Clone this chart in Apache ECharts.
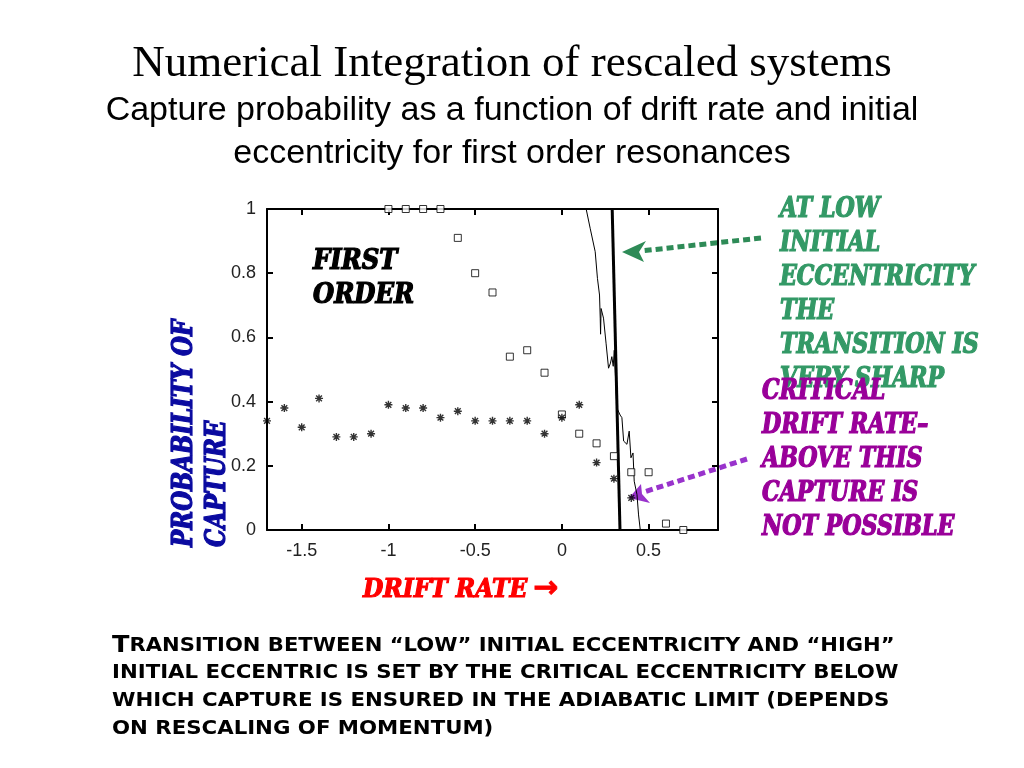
<!DOCTYPE html>
<html>
<head>
<meta charset="utf-8">
<script src="https://cdn.jsdelivr.net/npm/echarts@6/dist/echarts.min.js"></script>
<style>
html,body{margin:0;padding:0;background:#fff;}
#c{width:1024px;height:768px;}
</style>
</head>
<body>
<div id="c"></div>
<script>
// ---- data ----
const xTicks = [-1.5, -1, -0.5, 0, 0.5];
const yTicks = [0, 0.2, 0.4, 0.6, 0.8, 1];

const starX = [-1.7,-1.6,-1.5,-1.4,-1.3,-1.2,-1.1,-1.0,-0.9,-0.8,-0.7,-0.6,-0.5,-0.4,-0.3,-0.2,-0.1,0,0.1,0.2,0.3,0.4];
const starY = [0.34,0.38,0.32,0.41,0.29,0.29,0.30,0.39,0.38,0.38,0.35,0.37,0.34,0.34,0.34,0.34,0.30,0.35,0.39,0.21,0.16,0.10];

const squareX = [-1.0,-0.9,-0.8,-0.7,-0.6,-0.5,-0.4,-0.3,-0.2,-0.1,0,0.1,0.2,0.3,0.4,0.5,0.6,0.7];
const squareY = [1,1,1,1,0.91,0.80,0.74,0.54,0.56,0.49,0.36,0.30,0.27,0.23,0.18,0.18,0.02,0.0];

const thinX = [0.14,0.163,0.192,0.205,0.217,0.221,0.223,0.226,0.24,0.255,0.269,0.28,0.288,0.296,0.302,0.307,0.317,0.336,0.346,0.356,0.375,0.388,0.398,0.41,0.417,0.433,0.442,0.452,0.5];
const thinY = [1,0.94,0.867,0.784,0.732,0.66,0.61,0.69,0.66,0.58,0.504,0.52,0.54,0.51,0.56,0.505,0.38,0.358,0.35,0.277,0.267,0.308,0.225,0.24,0.152,0.11,0.047,0,0];

const thickX = [0.29, 0.335];
const thickY = [1, 0];

const titleText = "Numerical Integration of rescaled systems";
const subtitleText = "Capture probability as a function of drift rate and initial\neccentricity for first order resonances";
const insideLabel = "FIRST\nORDER";
const yName = "PROBABILITY OF\nCAPTURE";
const xName = "DRIFT RATE";
const greenNote = "AT LOW\nINITIAL\nECCENTRICITY\nTHE\nTRANSITION IS\nVERY SHARP";
const purpleNote = "CRITICAL\nDRIFT RATE–\nABOVE THIS\nCAPTURE IS\nNOT POSSIBLE";
const bottomLines = [
  "RANSITION BETWEEN “LOW” INITIAL ECCENTRICITY AND “HIGH”",
  "INITIAL ECCENTRIC IS SET BY THE CRITICAL ECCENTRICITY BELOW",
  "WHICH CAPTURE IS ENSURED IN THE ADIABATIC LIMIT (DEPENDS",
  "ON RESCALING OF MOMENTUM)"
];

const zip = (a, b) => a.map((v, i) => [v, b[i]]);

const heavy = '"DejaVu Serif Condensed", "DejaVu Serif", serif';
const heavyFont = (px) => 'bold italic ' + px + 'px ' + heavy;
const chart = echarts.init(document.getElementById('c'));

const asterisk = 'path://M0,-5L0,5M-5,0L5,0M-3.6,-3.6L3.6,3.6M-3.6,3.6L3.6,-3.6';
const tickFont = {color: '#222', fontSize: 18, fontFamily: 'Liberation Sans, Arial, sans-serif'};
const bottomFont = 'bold 19px "DejaVu Sans", sans-serif';

chart.setOption({
  animation: false,
  backgroundColor: '#ffffff',
  grid: {left: 267, right: 306, top: 209, bottom: 238, containLabel: false},
  xAxis: [{
    type: 'value', min: -1.7, max: 0.9,
    axisLine: {show: true, onZero: false, lineStyle: {color: '#000', width: 2}},
    axisTick: {show: true, inside: true, length: 6, customValues: xTicks, lineStyle: {color: '#000', width: 2}},
    axisLabel: Object.assign({customValues: xTicks, margin: 12}, tickFont),
    splitLine: {show: false}
  }, {
    type: 'value', min: -1.7, max: 0.9, position: 'top',
    axisLine: {show: true, onZero: false, lineStyle: {color: '#000', width: 2}},
    axisTick: {show: true, inside: true, length: 6, customValues: xTicks, lineStyle: {color: '#000', width: 2}},
    axisLabel: {show: false},
    splitLine: {show: false}
  }],
  yAxis: [{
    type: 'value', min: 0, max: 1, interval: 0.2,
    axisLine: {show: true, onZero: false, lineStyle: {color: '#000', width: 2}},
    axisTick: {show: true, inside: true, length: 6, lineStyle: {color: '#000', width: 2}},
    axisLabel: Object.assign({margin: 11}, tickFont),
    splitLine: {show: false}
  }, {
    type: 'value', min: 0, max: 1, interval: 0.2, position: 'right',
    axisLine: {show: true, onZero: false, lineStyle: {color: '#000', width: 2}},
    axisTick: {show: true, inside: true, length: 6, lineStyle: {color: '#000', width: 2}},
    axisLabel: {show: false},
    splitLine: {show: false}
  }],
  series: [{
    type: 'line', data: zip(thinX, thinY), showSymbol: false, symbol: 'none',
    lineStyle: {color: '#000', width: 1}, z: 2
  }, {
    type: 'line', data: zip(thickX, thickY), showSymbol: false, symbol: 'none',
    lineStyle: {color: '#000', width: 3}, z: 2
  }, {
    type: 'scatter', data: zip(squareX, squareY), symbol: 'rect', symbolSize: 7,
    itemStyle: {color: '#fff', borderColor: '#000', borderWidth: 1}, z: 3
  }, {
    type: 'scatter', data: zip(starX, starY), symbol: asterisk, symbolSize: 8,
    itemStyle: {color: 'none', borderColor: '#000', borderWidth: 1.4}, z: 3
  }],
  graphic: [
    {type: 'text', style: {text: titleText, x: 512, y: 64, textAlign: 'center', textVerticalAlign: 'middle',
      font: '45px "Liberation Serif", "Times New Roman", serif', fill: '#000'}},
    {type: 'text', style: {text: subtitleText, x: 512, y: 89, textAlign: 'center', textVerticalAlign: 'top',
      font: '34px "Liberation Sans", Arial, sans-serif', fill: '#000', lineHeight: 43}},
    {type: 'text', z: 10, x: 313, y: 245, style: {text: insideLabel, x: 0, y: 0, textAlign: 'left', textVerticalAlign: 'top',
      font: heavyFont(27), fill: '#000', stroke: '#000', lineWidth: 1.2, lineHeight: 34}},
    {type: 'text', rotation: Math.PI / 2, x: 201, y: 547, scaleX: 0.94, style: {text: yName, x: 0, y: 0, textAlign: 'left', textVerticalAlign: 'middle',
      font: heavyFont(27), fill: '#0a0aa0', stroke: '#0a0aa0', lineWidth: 1.2, lineHeight: 33}},
    {type: 'text', x: 363, y: 590, style: {text: xName, x: 0, y: 0, textAlign: 'left', textVerticalAlign: 'middle',
      font: heavyFont(26), fill: '#ff0000', stroke: '#ff0000', lineWidth: 1.1}},
    {type: 'text', style: {text: '→', x: 533, y: 589, textAlign: 'left', textVerticalAlign: 'middle',
      font: 'bold 30px "DejaVu Sans", sans-serif', fill: '#ff0000', stroke: '#ff0000', lineWidth: 0.8}},
    {type: 'text', x: 780, y: 193, scaleX: 0.91, style: {text: greenNote, x: 0, y: 0, textAlign: 'left', textVerticalAlign: 'top',
      font: heavyFont(27), fill: '#339966', stroke: '#339966', lineWidth: 1.2, lineHeight: 34}},
    {type: 'text', x: 762, y: 375, scaleX: 0.91, style: {text: purpleNote, x: 0, y: 0, textAlign: 'left', textVerticalAlign: 'top',
      font: heavyFont(27), fill: '#990099', stroke: '#990099', lineWidth: 1.2, lineHeight: 34}},
    // green dotted arrow
    {type: 'line', shape: {x1: 761, y1: 238, x2: 641, y2: 251},
      style: {stroke: '#2e8b57', lineWidth: 5, lineDash: [7, 4]}},
    {type: 'polygon', shape: {points: [[622, 252], [646, 241], [639, 252], [644, 262]]},
      style: {fill: '#2e8b57'}},
    // purple dotted arrow
    {type: 'line', shape: {x1: 747, y1: 459, x2: 644, y2: 492},
      style: {stroke: '#9933cc', lineWidth: 5, lineDash: [7, 4]}},
    {type: 'polygon', shape: {points: [[629, 498], [641, 484], [642, 494], [650, 503]]},
      style: {fill: '#9933cc'}},
    // bottom paragraph
    {type: 'text', x: 112, y: 646, scaleX: 1.11, style: {text: '{b|T}{s|' + bottomLines[0] + '}', x: 0, y: 0, textAlign: 'left', textVerticalAlign: 'middle',
      rich: {b: {font: 'bold 23px "DejaVu Sans", sans-serif', fill: '#000'}, s: {font: bottomFont, fill: '#000'}}}},
    {type: 'text', x: 112, y: 673, scaleX: 1.12, style: {text: bottomLines[1], x: 0, y: 0, textAlign: 'left', textVerticalAlign: 'middle',
      font: bottomFont, fill: '#000'}},
    {type: 'text', x: 112, y: 701, scaleX: 1.12, style: {text: bottomLines[2], x: 0, y: 0, textAlign: 'left', textVerticalAlign: 'middle',
      font: bottomFont, fill: '#000'}},
    {type: 'text', x: 112, y: 729, scaleX: 1.12, style: {text: bottomLines[3], x: 0, y: 0, textAlign: 'left', textVerticalAlign: 'middle',
      font: bottomFont, fill: '#000'}}
  ]
});
</script>
</body>
</html>
